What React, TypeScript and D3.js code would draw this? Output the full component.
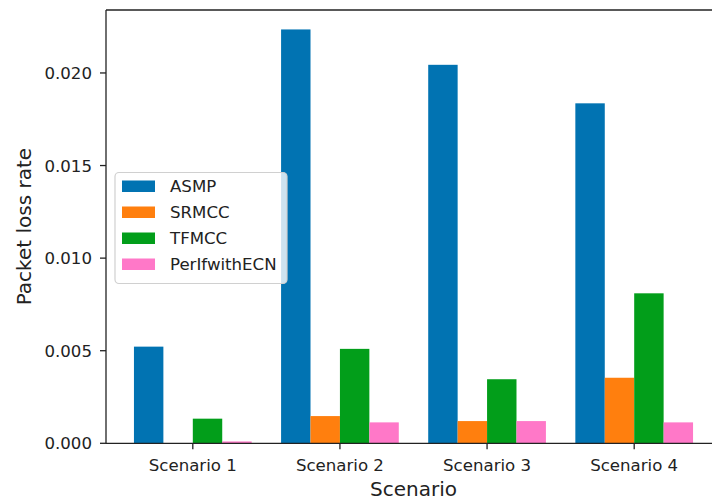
import React from "react";
import * as d3 from "d3";

const categories = ["Scenario 1", "Scenario 2", "Scenario 3", "Scenario 4"];
const seriesNames = ["ASMP", "SRMCC", "TFMCC", "PerIfwithECN"];
const asmp = [0.00522, 0.02235, 0.02044, 0.01836];
const srmcc = [0.0, 0.00147, 0.0012, 0.00354];
const tfmcc = [0.00133, 0.0051, 0.00346, 0.0081];
const perif = [0.0001, 0.00113, 0.0012, 0.00113];
const yTicks = [0, 0.005, 0.01, 0.015, 0.02];
const colors = ["#0173b2", "#ff7f0e", "#029e1a", "#ff78c8"];

const W = 712;
const H = 501;
const left = 106;
const top = 10;
const bottom = 443.3;
const barW = 0.2;

export default function App() {
  const series = [asmp, srmcc, tfmcc, perif];
  const x = d3.scaleLinear().domain([-0.59, 3.59]).range([left, 721]);
  const y = d3.scaleLinear().domain([0, 0.0234]).range([bottom, top]);
  const font = "DejaVu Sans, sans-serif";
  const tickFs = 16.6;
  const labelFs = 20;
  const axisColor = "#222";

  const legendX = 115;
  const legendY = 172.5;
  const legendW = 172;
  const legendH = 111;

  return (
    <svg
      width={W}
      height={H}
      style={{ position: "absolute", left: 0, top: 0, background: "#fff" }}
      fontFamily={font}
    >
      <rect x={0} y={0} width={W} height={H} fill="#fff" />
      {/* bars */}
      {series.map((vals, j) =>
        vals.map((v, i) => {
          const x0 = x(i + (j - 2) * barW);
          const x1 = x(i + (j - 1) * barW);
          return (
            <rect
              key={`${j}-${i}`}
              x={x0}
              y={y(v)}
              width={x1 - x0}
              height={y(0) - y(v)}
              fill={colors[j]}
            />
          );
        })
      )}
      {/* spines */}
      <line x1={left} x2={left} y1={top} y2={bottom} stroke={axisColor} strokeWidth={1.3} />
      <line x1={left} x2={W + 20} y1={bottom} y2={bottom} stroke={axisColor} strokeWidth={1.3} />
      <line x1={left} x2={W + 20} y1={top} y2={top} stroke={axisColor} strokeWidth={1.3} />
      {/* y ticks */}
      {yTicks.map((t) => (
        <g key={t}>
          <line x1={left - 6} x2={left} y1={y(t)} y2={y(t)} stroke={axisColor} strokeWidth={1.3} />
          <text
            x={left - 14}
            y={y(t)}
            dy="0.36em"
            textAnchor="end"
            fontSize={tickFs}
            fill="#222"
          >
            {d3.format(".3f")(t)}
          </text>
        </g>
      ))}
      {/* x ticks */}
      {categories.map((c, i) => (
        <g key={c}>
          <line x1={x(i)} x2={x(i)} y1={bottom} y2={bottom + 6} stroke={axisColor} strokeWidth={1.3} />
          <text x={x(i)} y={470.5} textAnchor="middle" fontSize={tickFs} fill="#222">
            {c}
          </text>
        </g>
      ))}
      {/* axis labels */}
      <text x={(left + 721) / 2} y={496} textAnchor="middle" fontSize={labelFs} fill="#222">
        Scenario
      </text>
      <text
        transform={`translate(31, ${(top + bottom) / 2}) rotate(-90)`}
        textAnchor="middle"
        fontSize={labelFs}
        fill="#222"
      >
        Packet loss rate
      </text>
      {/* legend */}
      <rect
        x={legendX}
        y={legendY}
        width={legendW}
        height={legendH}
        rx={4}
        fill="#fff"
        fillOpacity={0.8}
        stroke="#d0d0d0"
        strokeWidth={1.2}
      />
      {seriesNames.map((s, j) => (
        <g key={s}>
          <rect x={122} y={180.5 + j * 26} width={33} height={11.5} fill={colors[j]} />
          <text x={170} y={186.2 + j * 26} dy="0.36em" fontSize={tickFs} fill="#222">
            {s}
          </text>
        </g>
      ))}
    </svg>
  );
}
